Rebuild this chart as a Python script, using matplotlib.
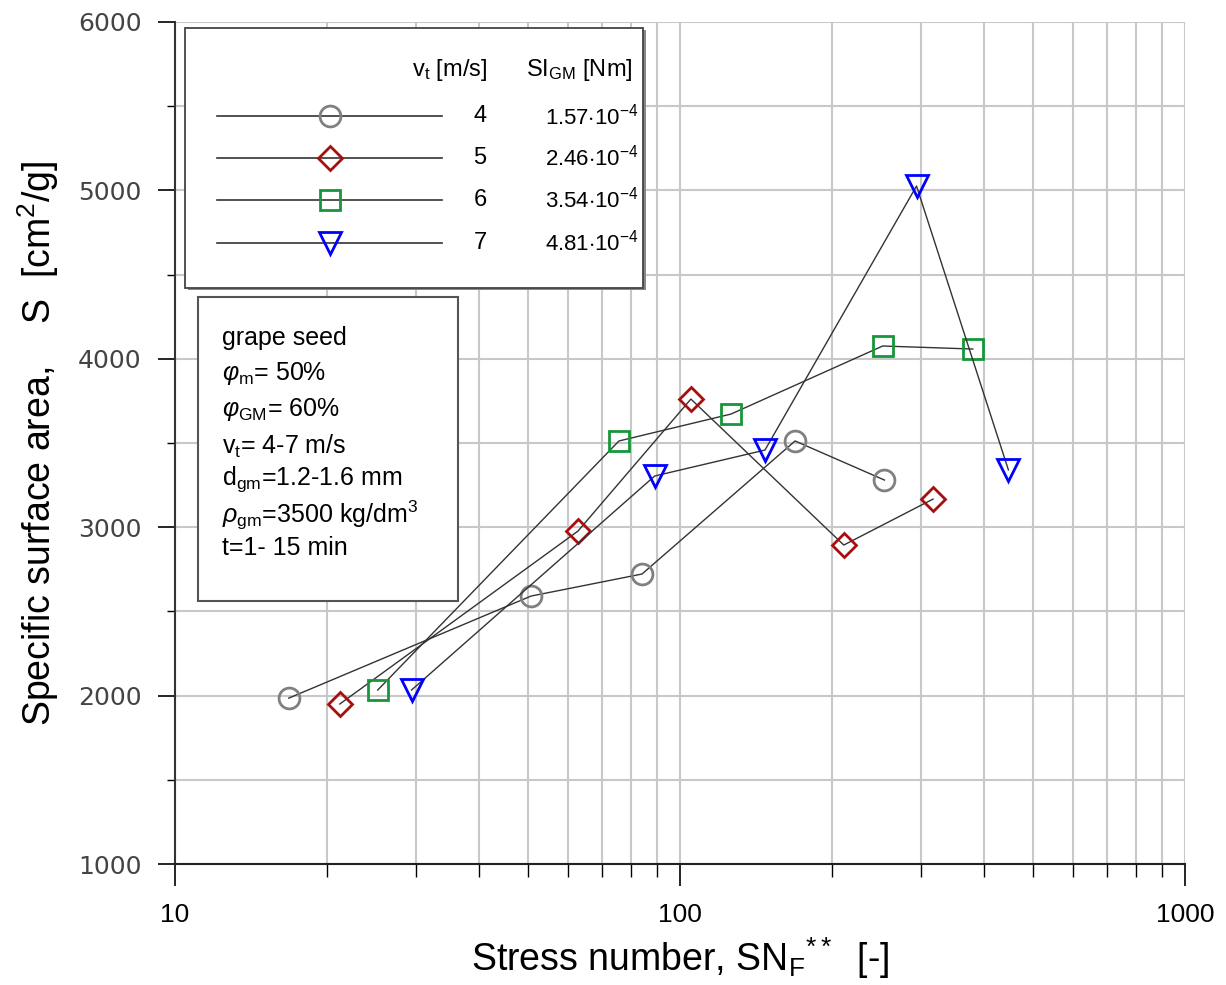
import matplotlib
matplotlib.use("Agg")
import matplotlib.pyplot as plt
import matplotlib.ticker as ticker
from matplotlib.patches import Rectangle
from matplotlib.lines import Line2D

plt.rcParams['font.family'] = ['Liberation Sans', 'DejaVu Sans']
plt.rcParams['mathtext.fontset'] = 'custom'
plt.rcParams['mathtext.rm'] = 'Liberation Sans'
plt.rcParams['mathtext.it'] = 'Liberation Sans:italic'

# ── data ─────────────────────────────────────────────────────────────────────
sn_v4 = [16.8, 50.7, 84.1, 169, 254]
s_v4  = [1985, 2591, 2722, 3512, 3280]

sn_v5 = [21.2, 62.8, 105.1, 211, 317]
s_v5  = [1950, 2977, 3761, 2894, 3167]

sn_v6 = [25.2, 75.7, 126.2, 252, 380]
s_v6  = [2033, 3512, 3672, 4076, 4058]

sn_v7 = [29.4, 89.1, 147.3, 294, 447]
s_v7  = [2033, 3304, 3458, 5026, 3340]

vt_labels = ["4", "5", "6", "7"]
si_labels = [r"1.57$\cdot$10$^{-4}$", r"2.46$\cdot$10$^{-4}$",
             r"3.54$\cdot$10$^{-4}$", r"4.81$\cdot$10$^{-4}$"]

info_lines = [
    "grape seed",
    r"$\varphi_{\rm m}$= 50%",
    r"$\varphi_{\rm GM}$= 60%",
    r"v$_{\rm t}$= 4-7 m/s",
    r"d$_{\rm gm}$=1.2-1.6 mm",
    r"$\rho_{\rm gm}$=3500 kg/dm$^3$",
    "t=1- 15 min",
]

series = [
    (sn_v4, s_v4, "o", "#808080", 15),
    (sn_v5, s_v5, "D", "#a50f0f", 12),
    (sn_v6, s_v6, "s", "#16963a", 14),
    (sn_v7, s_v7, "v", "#0000ff", 16),
]

# ── plot ─────────────────────────────────────────────────────────────────────
fig = plt.figure(figsize=(12.26, 9.85), dpi=100)
ax = fig.add_axes([175/1226, 1 - 864/985, 1010/1226, 842/985])

for xs, ys, mk, col, ms in series:
    ax.plot(xs, ys, color="#333333", lw=1.0, marker=mk, ms=ms,
            mfc="none", mec=col, mew=2.0, zorder=3)

ax.set_xscale("log")
ax.set_xlim(10, 1000)
ax.set_ylim(1000, 6000)
ax.yaxis.set_major_locator(ticker.MultipleLocator(1000))
ax.yaxis.set_minor_locator(ticker.MultipleLocator(500))
ax.xaxis.set_major_formatter(ticker.FormatStrFormatter("%d"))
ax.xaxis.set_minor_formatter(ticker.NullFormatter())

ax.grid(True, which="both", color="#c8c8c8", lw=1.5, zorder=0)
ax.set_axisbelow(True)
for sp in ("top", "right"):
    ax.spines[sp].set_visible(False)
ax.spines["left"].set_color("#333333")
ax.spines["bottom"].set_color("#222222")
ax.spines["left"].set_linewidth(1.5)
ax.spines["bottom"].set_linewidth(1.5)

ax.tick_params(axis="y", which="major", length=12, width=1.2, direction="out",
               labelsize=18, labelcolor="#444444", pad=12)
ax.tick_params(axis="y", which="minor", length=6, width=1.0, direction="out")
ax.tick_params(axis="x", which="major", length=16, width=1.2, direction="out",
               labelsize=19, pad=12)
ax.tick_params(axis="x", which="minor", length=9, width=1.0, direction="out")
for lab in ax.get_yticklabels():
    lab.set_family("DejaVu Sans")

ax.set_xlabel(r"Stress number, SN$_{\rm F}$$^{**}$  [-]", fontsize=27,
              labelpad=6)
ax.set_ylabel(r"Specific surface area,    S  [cm$^2$/g]", fontsize=27,
              labelpad=12)

# legend box
tr = ax.transAxes
ax.add_patch(Rectangle((0.0125, 0.6815), 0.4535, 0.3088, transform=tr,
                       facecolor="#888888", edgecolor="none", zorder=4))
ax.add_patch(Rectangle((0.0099, 0.684), 0.4535, 0.3088, transform=tr,
                       facecolor="white", edgecolor="#444444", lw=1.3, zorder=5))
ax.text(0.272, 0.943, r"v$_{\rm t}$ [m/s]", transform=tr, ha="center",
        va="center", fontsize=17, zorder=6)
ax.text(0.348, 0.943, r"SI$_{\rm GM}$ [Nm]", transform=tr, ha="left",
        va="center", fontsize=17, zorder=6)
row_y = [0.888, 0.8385, 0.7886, 0.7375]
for (xs, ys, mk, col, ms), vt, si, yy in zip(series, vt_labels, si_labels, row_y):
    ax.add_line(Line2D([0.0416, 0.2644], [yy, yy], transform=tr,
                       color="#333333", lw=1.2, zorder=6))
    ax.add_line(Line2D([0.1535], [yy], transform=tr, marker=mk, ms=ms,
                       mfc="none", mec=col, mew=2.0, zorder=7))
    ax.text(0.302, yy, vt, transform=tr, ha="center", va="center",
            fontsize=17, zorder=6)
    ax.text(0.366, yy, si, transform=tr, ha="left", va="center",
            fontsize=16, zorder=6)

# info box
ax.add_patch(Rectangle((0.0228, 0.3124), 0.2574, 0.361, transform=tr,
                       facecolor="white", edgecolor="#555555", lw=1.5, zorder=5))
info_y = [0.6247, 0.5831, 0.5392, 0.4964, 0.4572, 0.4145, 0.3753]
for txt, yy in zip(info_lines, info_y):
    ax.text(0.0465, yy, txt, transform=tr, ha="left", va="center",
            fontsize=18, zorder=6)

fig.savefig("out.png", dpi=100)
